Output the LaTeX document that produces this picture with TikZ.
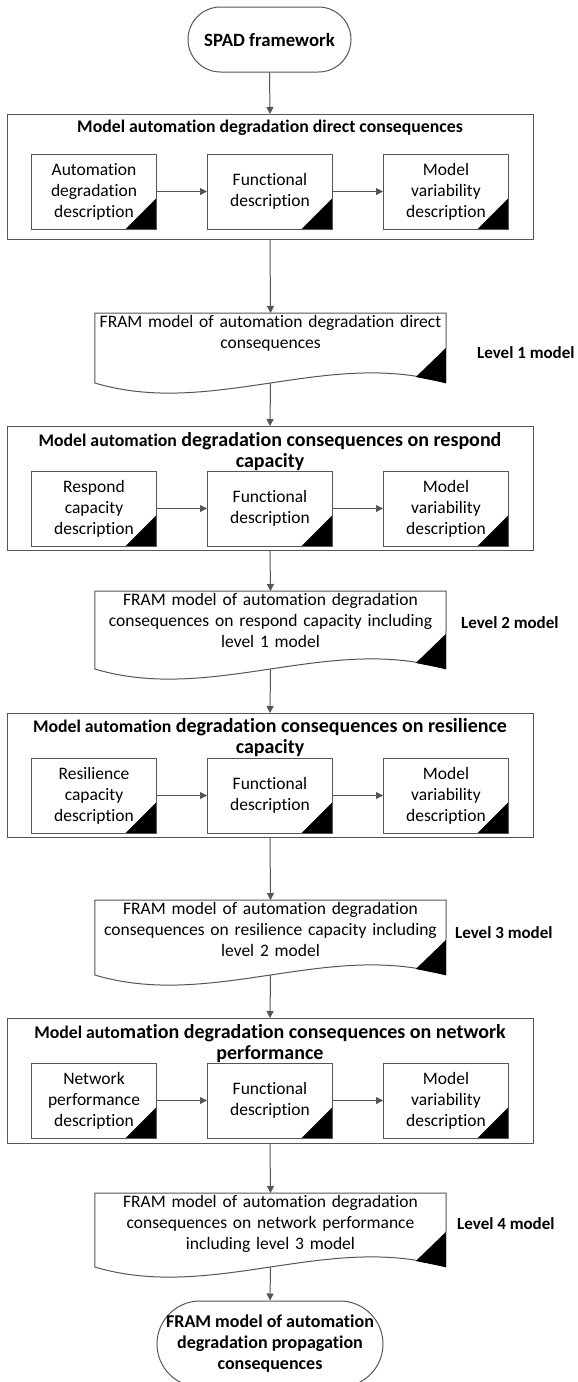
\documentclass[tikz,border=0pt]{standalone}
\usepackage{fontspec}
\setmainfont{Carlito}[Ligatures=NoCommon]
\usetikzlibrary{positioning,arrows.meta}
\definecolor{edgegray}{HTML}{555555}

% smaller part of the mixed-size titles
\newcommand{\smallbit}[1]{{\fontsize{17.75}{21}\selectfont #1}}
% document symbol round node #1, straight sides #2 long
\newcommand{\docshape}[2]{%
  \draw[frame] (#1.north west) -- ++(0,#2) coordinate (#1-sw)
    .. controls +(117,35) and +(-117,-35) .. ++(351,0) coordinate (#1-se)
    -- (#1.north east) -- cycle;
  \fill (#1-se) -- ++(0,-35) -- ++(-30,29) -- cycle;
  \coordinate (#1-bot) at ([yshift=-#2 pt]#1.north);
}

\begin{document}
\begin{tikzpicture}[x=1pt,y=-1pt,line join=round,
    frame/.style={draw=edgegray,line width=1pt},
    link/.style={draw=edgegray,line width=1pt,-{Triangle[length=7pt,width=7pt]}},
    terminal/.style={frame,rounded corners=#1,align=center,inner sep=0pt},
    stage/.style={frame,minimum width=526pt,minimum height=#1,anchor=north,inner sep=0pt},
    title/.style={align=center,inner sep=0pt,font=\bfseries\fontsize{20}{21}\selectfont},
    task/.style={frame,minimum width=125pt,minimum height=75pt,inner sep=0pt,align=center,
      font=\fontsize{17.5}{21}\selectfont,
      path picture={\fill[black] (path picture bounding box.south east)
        -- ([yshift=31pt]path picture bounding box.south east)
        -- ([xshift=-31pt]path picture bounding box.south east) -- cycle;}},
    doctext/.style={anchor=north,minimum width=351pt,text width=345pt,align=center,
      inner xsep=0pt,inner ysep=2pt,font=\fontsize{17.5}{21}\selectfont},
    level/.style={anchor=west,inner sep=0pt,font=\bfseries\fontsize{17}{21}\selectfont}]
\useasboundingbox (0,0) rectangle (578,1382);

\node[terminal=32.5pt,minimum width=163pt,minimum height=65pt,
  font=\bfseries\fontsize{18.75}{21}\selectfont] (spad) at (269.5,39.5) {SPAD framework};

% level 1
\node[stage=125pt] (s1) at (270,114) {};
\node[title] (t1) at (270,128) {\smallbit{Model automation degradation direct consequences}};
\node[task] (fun1) at (270,191.5) {Functional\\description};
\node[task,left=50pt of fun1] (aut1) {Automation\\degradation\\description};
\node[task,right=50pt of fun1] (var1) {Model\\variability\\description};
\node[doctext] (d1) at (270.5,313) {FRAM model of automation degradation direct\\consequences};
\docshape{d1}{70}
\node[level] (lv1) at (477,353) {Level 1 model};

% level 2
\node[stage=124pt] (s2) at (270,426) {};
\node[title] (t2) at (270,451.5) {\smallbit{Model automation} degradation consequences on respond\\capacity};
\node[task] (fun2) at (270,508.5) {Functional\\description};
\node[task,left=50pt of fun2] (res2) {Respond\\capacity\\description};
\node[task,right=50pt of fun2] (var2) {Model\\variability\\description};
\node[doctext] (d2) at (270.5,591) {FRAM model of automation degradation\\consequences on respond capacity including\\level 1 model};
\docshape{d2}{78}
\node[level] (lv2) at (461,623) {Level 2 model};

% level 3
\node[stage=124pt] (s3) at (270,713) {};
\node[title] (t3) at (270,737.5) {\smallbit{Model automation} degradation consequences on resilience\\capacity};
\node[task] (fun3) at (270,795.5) {Functional\\description};
\node[task,left=50pt of fun3] (res3) {Resilience\\capacity\\description};
\node[task,right=50pt of fun3] (var3) {Model\\variability\\description};
\node[doctext] (d3) at (270.5,900) {FRAM model of automation degradation\\consequences on resilience capacity including\\level 2 model};
\docshape{d3}{75}
\node[level] (lv3) at (455,933) {Level 3 model};

% level 4
\node[stage=125pt] (s4) at (270,1018) {};
\node[title] (t4) at (270,1043.5) {\smallbit{Model auto}mation degradation consequences on network\\performance};
\node[task] (fun4) at (270,1100.5) {Functional\\description};
\node[task,left=50pt of fun4] (net4) {Network\\performance\\description};
\node[task,right=50pt of fun4] (var4) {Model\\variability\\description};
\node[doctext] (d4) at (270.5,1193) {FRAM model of automation degradation\\consequences on network performance\\including level 3 model};
\docshape{d4}{74}
\node[level] (lv4) at (457,1224) {Level 4 model};

\node[terminal=43pt,minimum width=226pt,minimum height=86pt,
  font=\bfseries\fontsize{18}{21}\selectfont] (out) at (270,1344) {FRAM model of automation\\degradation propagation\\consequences};

\draw[link] (spad.south) -- (s1.north);
\draw[link] (aut1) -- (fun1);
\draw[link] (fun1) -- (var1);
\draw[link] (s1.south) -- (d1.north);
\draw[link] (d1-bot) -- (s2.north);
\draw[link] (res2) -- (fun2);
\draw[link] (fun2) -- (var2);
\draw[link] (s2.south) -- (d2.north);
\draw[link] (d2-bot) -- (s3.north);
\draw[link] (res3) -- (fun3);
\draw[link] (fun3) -- (var3);
\draw[link] (s3.south) -- (d3.north);
\draw[link] (d3-bot) -- (s4.north);
\draw[link] (net4) -- (fun4);
\draw[link] (fun4) -- (var4);
\draw[link] (s4.south) -- (d4.north);
\draw[link] (d4-bot) -- (out.north);
\end{tikzpicture}
\end{document}
